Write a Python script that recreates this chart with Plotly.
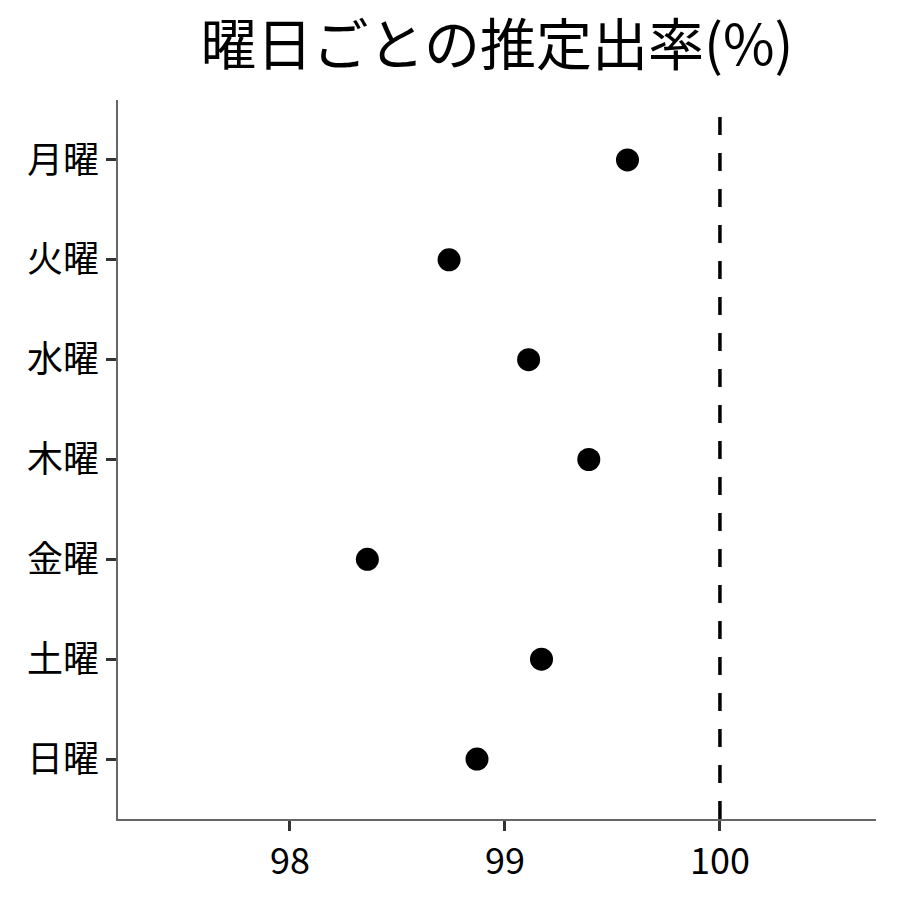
import plotly.graph_objects as go

days = ['月曜', '火曜', '水曜', '木曜', '金曜', '土曜', '日曜']
rates = [99.57, 98.74, 99.11, 99.39, 98.36, 99.17, 98.87]
ref_line = 100
x_ticks = [98, 99, 100]

font = 'Noto Sans CJK JP'

fig = go.Figure()
fig.add_trace(go.Scatter(
    x=rates, y=days, mode='markers',
    marker=dict(color='black', size=23),
    showlegend=False,
))
fig.add_vline(x=ref_line, line=dict(color='black', width=3.5, dash='18px,18px'))

# page has an 8px body margin, so margins are shifted to keep the plot area in place
fig.update_layout(
    width=900, height=900,
    paper_bgcolor='white', plot_bgcolor='white',
    margin=dict(l=110, r=32, t=92, b=89),
    title=dict(text='曜日ごとの推定出率(%)', x=0.5, xref='paper', xanchor='center',
               y=1 - 37 / 900, yref='container', yanchor='middle',
               font=dict(family=font, size=56, color='black')),
    font=dict(family=font, color='black'),
)
fig.update_xaxes(
    range=[97.2, 100.726], tickvals=x_ticks,
    showgrid=False, zeroline=False,
    showline=True, linecolor='#666666', linewidth=1.5,
    ticks='outside', ticklen=10, tickwidth=3, tickcolor='#333333',
    tickfont=dict(family=font, size=36, color='black'),
)
fig.update_yaxes(
    categoryorder='array', categoryarray=days[::-1],
    range=[-0.6, 6.6],
    showgrid=False, zeroline=False,
    showline=True, linecolor='#666666', linewidth=1.5,
    ticks='outside', ticklen=10, tickwidth=3, tickcolor='#333333',
    tickfont=dict(family=font, size=36, color='black'),
)

fig.write_html("out.html")
